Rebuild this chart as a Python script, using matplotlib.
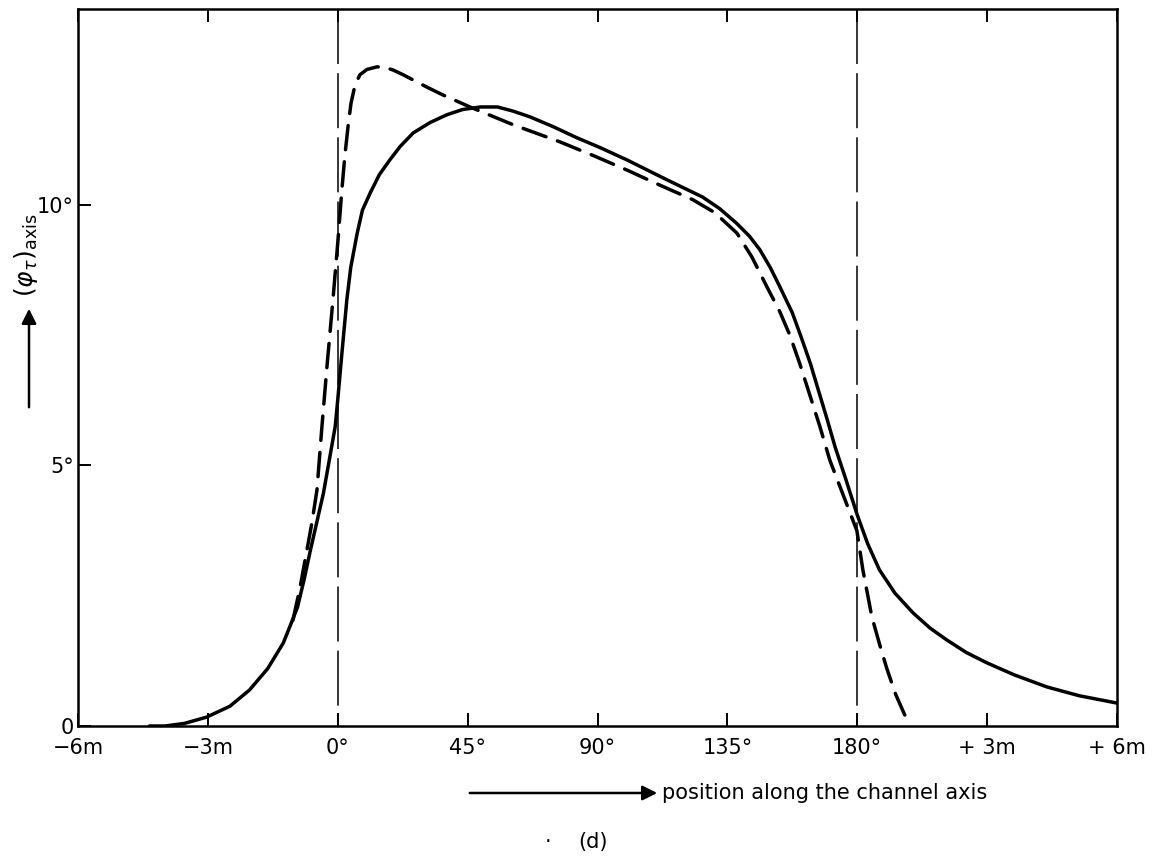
import numpy as np
import matplotlib.pyplot as plt

# Axial twist angle along the channel (d).
# x is in tick units: 0 = -6m, 2 = 0 deg, 6 = 180 deg, 8 = +6m

tick_labels = ['\u22126m', '\u22123m', '0°', '45°', '90°', '135°', '180°', '+ 3m', '+ 6m']
ytick_vals = [0, 5, 10]
ytick_labels = ['0', '5°', '10°']

# solid curve
solid_x = [0.55, 0.67, 0.82, 0.99, 1.17, 1.32, 1.46, 1.58, 1.63, 1.69, 1.74, 1.79,
           1.89, 1.98, 2.00, 2.03, 2.07, 2.10, 2.15, 2.19, 2.25, 2.32, 2.40, 2.48,
           2.58, 2.71, 2.84, 2.96, 3.10, 3.23, 3.35, 3.48, 3.66, 3.84, 4.02, 4.23,
           4.52, 4.81, 4.94, 5.07, 5.17, 5.25, 5.33, 5.40, 5.50, 5.57, 5.64, 5.70,
           5.77, 5.83, 5.91, 6.00, 6.08, 6.17, 6.29, 6.43, 6.56, 6.69, 6.84, 7.00,
           7.21, 7.46, 7.71, 8.00]
solid_y = [0.0, 0.0, 0.05, 0.17, 0.38, 0.69, 1.1, 1.59, 1.9, 2.28, 2.8, 3.38,
           4.47, 5.74, 6.26, 7.1, 8.18, 8.8, 9.46, 9.9, 10.23, 10.58, 10.86, 11.12,
           11.38, 11.58, 11.73, 11.83, 11.88, 11.88, 11.8, 11.69, 11.5, 11.29, 11.1, 10.86,
           10.5, 10.15, 9.93, 9.65, 9.4, 9.14, 8.8, 8.45, 7.93, 7.45, 6.95, 6.45,
           5.87, 5.35, 4.75, 4.05, 3.5, 3.0, 2.55, 2.17, 1.88, 1.65, 1.41, 1.21,
           0.98, 0.75, 0.58, 0.44]

# dashed curve
dashed_x = [1.655, 1.709, 1.763, 1.801, 1.84, 1.878, 1.917, 1.963, 2.001, 2.032,
            2.055, 2.079, 2.102, 2.133, 2.171, 2.225, 2.302, 2.363, 2.425, 2.502,
            2.579, 2.695, 2.81, 3.018, 3.349, 3.711, 3.965, 4.226, 4.480, 4.734,
            4.904, 5.073, 5.189, 5.304, 5.404, 5.481, 5.558, 5.635, 5.712, 5.789,
            5.866, 5.943, 5.997, 6.043, 6.112, 6.174, 6.228, 6.297, 6.366]
dashed_y = [2.03, 2.65, 3.38, 3.9, 4.53, 5.74, 6.9, 8.18, 9.3, 10.3,
            10.95, 11.5, 11.95, 12.3, 12.5, 12.6, 12.65, 12.64, 12.59, 12.5,
            12.4, 12.25, 12.11, 11.88, 11.54, 11.21, 10.95, 10.67, 10.38, 10.10,
            9.85, 9.46, 9.0, 8.43, 7.95, 7.5, 6.95, 6.35, 5.75, 5.1,
            4.6, 4.1, 3.75, 3.0, 2.1, 1.55, 1.1, 0.6, 0.21]

# channel entry / exit
channel_edges = [2, 6]

W, H = 1158, 857
fig = plt.figure(figsize=(W / 100, H / 100), dpi=100)
ax = fig.add_axes([78 / W, 1 - 726 / H, (1117 - 78) / W, (726 - 9) / H])

ax.plot(solid_x, solid_y, color='k', lw=2.5, solid_capstyle='round',
        solid_joinstyle='round')
ax.plot(dashed_x, dashed_y, color='k', lw=2.5, dashes=(7, 3.5), dash_capstyle='round',
        dash_joinstyle='round')
for xe in channel_edges:
    # drawn top-down so the dash pattern starts at the upper frame
    ax.axvline(xe, ymin=1, ymax=0, color='k', lw=1.1, dashes=(36, 6))

ax.set_xlim(0, 8)
ax.set_ylim(0, 13.76)
ax.set_xticks(range(9))
ax.set_xticklabels(tick_labels, fontsize=15)
ax.set_yticks(ytick_vals)
ax.set_yticklabels(ytick_labels, fontsize=15)
ax.tick_params(axis='x', direction='in', length=9.5, width=1.4, top=True, pad=9)
ax.tick_params(axis='y', direction='in', length=9.5, width=1.4, pad=3)
for s in ax.spines.values():
    s.set_linewidth(1.8)

# axis labels with arrows, as in the drawing
def fx(px):
    return px / W

def fy(py):
    return 1 - py / H

fig.text(fx(26), fy(255), r'$(\varphi_{\tau})_{\mathrm{axis}}$', rotation=90,
         ha='center', va='center', fontsize=18)
ax.annotate('', xy=(fx(29), fy(306)), xytext=(fx(29), fy(410)),
            xycoords='figure fraction', textcoords='figure fraction',
            arrowprops=dict(arrowstyle='-|>', lw=1.8, color='k', mutation_scale=22))
ax.annotate('', xy=(fx(660), fy(793)), xytext=(fx(467), fy(793)),
            xycoords='figure fraction', textcoords='figure fraction',
            arrowprops=dict(arrowstyle='-|>', lw=1.8, color='k', mutation_scale=22))
fig.text(fx(662), fy(793), 'position along the channel axis', ha='left', va='center',
         fontsize=15)
fig.text(fx(548), fy(842), '·', ha='center', va='center', fontsize=15)
fig.text(fx(593), fy(842), '(d)', ha='center', va='center', fontsize=15)

fig.savefig('out.png', dpi=100)
